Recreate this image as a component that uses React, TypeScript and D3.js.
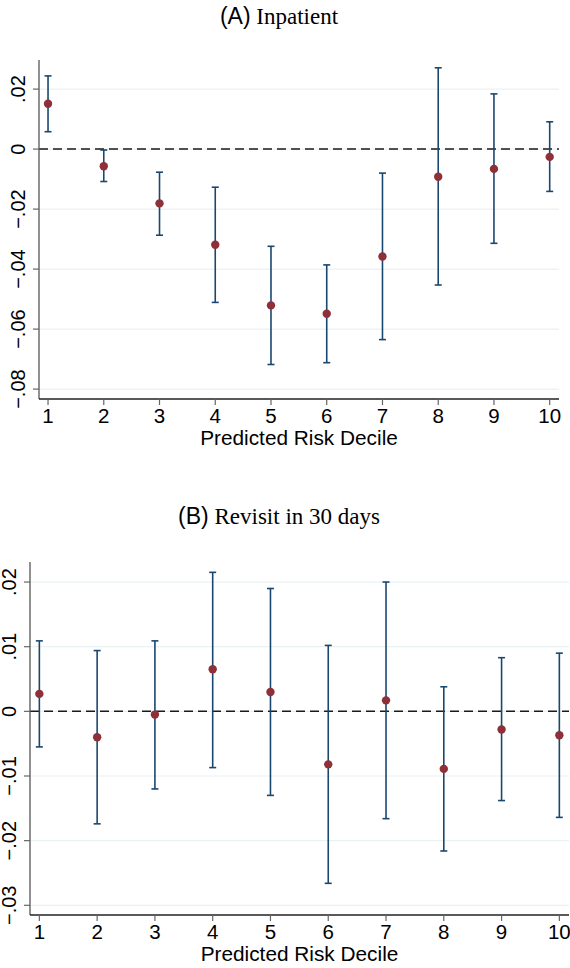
import React from "react";
import * as d3 from "d3";

const deciles = [1, 2, 3, 4, 5, 6, 7, 8, 9, 10];

const inpatientCoef = [0.0151, -0.0057, -0.0181, -0.0319, -0.0521, -0.0549, -0.0358, -0.0092, -0.0066, -0.0026];
const inpatientLower = [0.0058, -0.0108, -0.0287, -0.0511, -0.0718, -0.0712, -0.0635, -0.0453, -0.0314, -0.0141];
const inpatientUpper = [0.0244, -0.0003, -0.0077, -0.0127, -0.0324, -0.0386, -0.008, 0.0271, 0.0184, 0.0091];
const inpatientTicks = [0.02, 0, -0.02, -0.04, -0.06, -0.08];

const revisitCoef = [0.0027, -0.004, -0.0005, 0.0065, 0.003, -0.0082, 0.0017, -0.0089, -0.0028, -0.0037];
const revisitLower = [-0.0055, -0.0174, -0.012, -0.0087, -0.013, -0.0266, -0.0166, -0.0216, -0.0138, -0.0164];
const revisitUpper = [0.0109, 0.0094, 0.0109, 0.0215, 0.019, 0.0102, 0.02, 0.0038, 0.0083, 0.009];
const revisitTicks = [0.02, 0.01, 0, -0.01, -0.02, -0.03];

const xAxisTitle = "Predicted Risk Decile";

const SANS = "'Liberation Sans', Arial, Helvetica, sans-serif";
const SERIF = "'Liberation Serif', 'Times New Roman', serif";
const POINT = "#8f2f37";
const BAR = "#1a476f";
const GRID = "#eaf2f3";

function fmt(v: number): string {
  if (Math.abs(v) < 1e-12) return "0";
  const s = d3.format(".2f")(Math.abs(v)).replace(/^0/, "").replace(/0$/, "");
  return (v < 0 ? "\u2212" : "") + s;
}

type PanelProps = {
  label: string;
  title: string;
  titleY: number;
  coef: number[];
  lower: number[];
  upper: number[];
  ticks: number[];
  yDomain: [number, number];
  left: number;
  right: number;
  top: number;
  bottom: number;
};

function Panel(p: PanelProps) {
  const x = d3.scaleLinear().domain([0.838, 10.167]).range([p.left, p.right]);
  const y = d3.scaleLinear().domain(p.yDomain).range([p.bottom, p.top]);
  const cap = 3.5;
  const titleX = 279;
  return (
    <g>
      <text x={titleX} y={p.titleY} textAnchor="middle" fontSize={23} fill="#000">
        <tspan fontFamily={SANS}>{p.label}</tspan>
        <tspan fontFamily={SERIF}>{" " + p.title}</tspan>
      </text>
      {p.ticks.map((t) => (
        <line key={"g" + t} x1={p.left} x2={p.right} y1={y(t)} y2={y(t)} stroke={GRID} strokeWidth={1.2} />
      ))}
      <line x1={p.left} x2={p.right} y1={y(0)} y2={y(0)} stroke="#1a1a1a" strokeWidth={1.5} strokeDasharray="9,5" />
      {deciles.map((d, i) => (
        <g key={"e" + d}>
          <line x1={x(d)} x2={x(d)} y1={y(p.lower[i])} y2={y(p.upper[i])} stroke={BAR} strokeWidth={1.6} />
          <line x1={x(d) - cap} x2={x(d) + cap} y1={y(p.lower[i])} y2={y(p.lower[i])} stroke={BAR} strokeWidth={1.6} />
          <line x1={x(d) - cap} x2={x(d) + cap} y1={y(p.upper[i])} y2={y(p.upper[i])} stroke={BAR} strokeWidth={1.6} />
        </g>
      ))}
      {deciles.map((d, i) => (
        <circle key={"p" + d} cx={x(d)} cy={y(p.coef[i])} r={4.2} fill={POINT} />
      ))}
      <line x1={p.left} x2={p.left} y1={p.top} y2={p.bottom} stroke="#555" strokeWidth={1.3} />
      <line x1={p.left} x2={p.right} y1={p.bottom} y2={p.bottom} stroke="#222" strokeWidth={1.3} />
      {p.ticks.map((t) => (
        <g key={"yt" + t}>
          <line x1={p.left - 6} x2={p.left} y1={y(t)} y2={y(t)} stroke="#666" strokeWidth={1.2} />
          <text
            transform={`translate(${p.left - 14.5},${y(t)}) rotate(-90)`}
            textAnchor="middle"
            fontFamily={SANS}
            fontSize={20}
            fill="#000"
          >
            {fmt(t)}
          </text>
        </g>
      ))}
      {deciles.map((d) => (
        <g key={"xt" + d}>
          <line x1={x(d)} x2={x(d)} y1={p.bottom} y2={p.bottom + 6} stroke="#666" strokeWidth={1.2} />
          <text x={x(d)} y={p.bottom + 23.5} textAnchor="middle" fontFamily={SANS} fontSize={20.5} fill="#000">
            {d}
          </text>
        </g>
      ))}
      <text x={(p.left + p.right) / 2} y={p.bottom + 45.5} textAnchor="middle" fontFamily={SANS} fontSize={20.8} fill="#000">
        {xAxisTitle}
      </text>
    </g>
  );
}

export default function App() {
  return (
    <svg
      width={570}
      height={968}
      style={{ position: "absolute", left: 0, top: 0, background: "#fff" }}
    >
      <rect width={570} height={968} fill="#fff" />
      <Panel
        label="(A)"
        title="Inpatient"
        titleY={24}
        coef={inpatientCoef}
        lower={inpatientLower}
        upper={inpatientUpper}
        ticks={inpatientTicks}
        yDomain={[-0.0833, 0.0297]}
        left={39}
        right={559}
        top={60}
        bottom={399}
      />
      <Panel
        label="(B)"
        title="Revisit in 30 days"
        titleY={524}
        coef={revisitCoef}
        lower={revisitLower}
        upper={revisitUpper}
        ticks={revisitTicks}
        yDomain={[-0.0315, 0.0231]}
        left={30}
        right={569}
        top={562}
        bottom={915}
      />
    </svg>
  );
}
